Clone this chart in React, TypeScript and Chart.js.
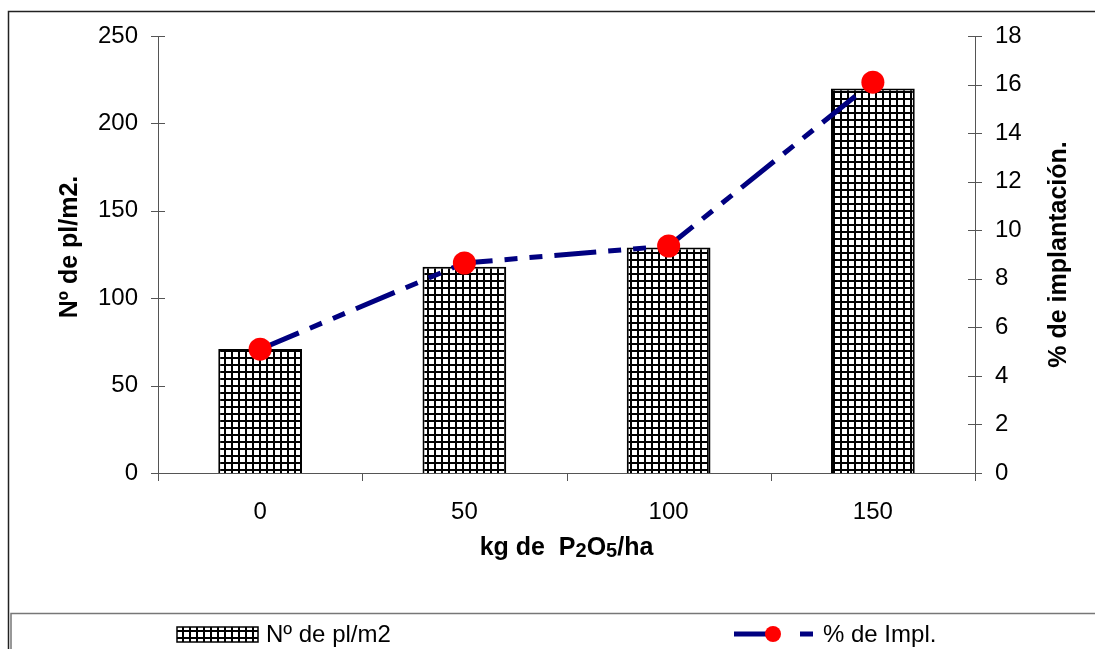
import { useEffect, useRef } from 'react';
import { Chart, registerables } from 'chart.js';

Chart.register(...registerables);

// Phosphorus doses (kg P2O5/ha)
const doses = ['0', '50', '100', '150'];
// Plant density (plants per m2)
const plantsPerM2 = [71, 118, 129, 220];
// Establishment percentage
const implantPct = [5.1, 8.65, 9.35, 16.1];

const FONT = '"Liberation Sans", Arial, Helvetica, sans-serif';
const NAVY = '#000080';
const DASH = [42, 12, 13, 12, 13, 12];

function makeGridPattern(): CanvasPattern | string {
  const tile = document.createElement('canvas');
  tile.width = 7;
  tile.height = 7;
  const t = tile.getContext('2d');
  if (!t) return '#ccc';
  t.fillStyle = '#ffffff';
  t.fillRect(0, 0, 7, 7);
  t.fillStyle = '#000000';
  t.fillRect(0, 0, 2, 7);
  t.fillRect(0, 0, 7, 2);
  const main = document.createElement('canvas').getContext('2d');
  return main ? (main.createPattern(tile, 'repeat') as CanvasPattern) : '#ccc';
}

export default function App() {
  const ref = useRef<HTMLCanvasElement | null>(null);

  useEffect(() => {
    document.body.style.margin = '0';
    const canvas = ref.current;
    if (!canvas) return;
    const pattern = makeGridPattern();

    const decorations = {
      id: 'decorations',
      afterDraw(chart: any) {
        const ctx: CanvasRenderingContext2D = chart.ctx;
        const { left, right, top, bottom } = chart.chartArea;
        const yL = chart.scales.y;
        const yR = chart.scales.y1;
        ctx.save();

        // tick marks crossing the value axes
        ctx.strokeStyle = '#555';
        ctx.lineWidth = 1;
        ctx.beginPath();
        yL.ticks.forEach((t: any) => {
          const y = Math.round(yL.getPixelForValue(t.value)) + 0.5;
          ctx.moveTo(left - 7, y);
          ctx.lineTo(left + 7, y);
        });
        yR.ticks.forEach((t: any) => {
          const y = Math.round(yR.getPixelForValue(t.value)) + 0.5;
          ctx.moveTo(right - 7, y);
          ctx.lineTo(right + 7, y);
        });
        // category boundary ticks
        const step = (right - left) / doses.length;
        for (let i = 0; i <= doses.length; i++) {
          const x = Math.round(left + i * step) + 0.5;
          ctx.moveTo(x, bottom);
          ctx.lineTo(x, bottom + 8);
        }
        ctx.stroke();

        // axis titles
        ctx.fillStyle = '#000';
        ctx.font = `bold 25px ${FONT}`;
        ctx.textAlign = 'center';
        ctx.textBaseline = 'middle';
        const midY = (top + bottom) / 2;
        ctx.save();
        ctx.translate(70, 247);
        ctx.rotate(-Math.PI / 2);
        ctx.fillText('Nº de pl/m2.', 0, 0);
        ctx.restore();
        ctx.save();
        ctx.translate(1059, midY);
        ctx.rotate(-Math.PI / 2);
        ctx.fillText('% de implantación.', 0, 0);
        ctx.restore();

        // x title with subscripts
        const parts: [string, number, number][] = [
          ['kg de  P', 25, 0],
          ['2', 20, 2],
          ['O', 25, 0],
          ['5', 20, 2],
          ['/ha', 25, 0],
        ];
        ctx.textAlign = 'left';
        ctx.textBaseline = 'alphabetic';
        let total = 0;
        parts.forEach(([s, size]) => {
          ctx.font = `bold ${size}px ${FONT}`;
          total += ctx.measureText(s).width;
        });
        let x = (left + right) / 2 - total / 2;
        parts.forEach(([s, size, dy]) => {
          ctx.font = `bold ${size}px ${FONT}`;
          ctx.fillText(s, x, 555 + dy);
          x += ctx.measureText(s).width;
        });

        // outer frame
        ctx.strokeStyle = '#222';
        ctx.lineWidth = 1.5;
        ctx.beginPath();
        ctx.moveTo(8.5, 649);
        ctx.lineTo(8.5, 11.5);
        ctx.lineTo(1095, 11.5);
        ctx.stroke();

        // legend box
        ctx.strokeStyle = '#777';
        ctx.lineWidth = 1.5;
        ctx.beginPath();
        ctx.moveTo(11, 649);
        ctx.lineTo(11, 613.5);
        ctx.lineTo(1095, 613.5);
        ctx.stroke();

        // legend: bars
        const ly = 634;
        ctx.fillStyle = pattern as any;
        ctx.fillRect(177, 627, 81, 15);
        ctx.strokeStyle = '#000';
        ctx.lineWidth = 1.5;
        ctx.strokeRect(177, 627, 81, 15);
        ctx.fillStyle = '#000';
        ctx.font = `24px ${FONT}`;
        ctx.textBaseline = 'middle';
        ctx.fillText('Nº de pl/m2', 266, ly + 1);

        // legend: line
        ctx.strokeStyle = NAVY;
        ctx.lineWidth = 5;
        ctx.beginPath();
        ctx.moveTo(734, ly);
        ctx.lineTo(774, ly);
        ctx.moveTo(800, ly);
        ctx.lineTo(813, ly);
        ctx.stroke();
        ctx.fillStyle = '#ff0000';
        ctx.beginPath();
        ctx.arc(773, ly, 8, 0, Math.PI * 2);
        ctx.fill();
        ctx.fillStyle = '#000';
        ctx.fillText('% de Impl.', 823, ly + 1);

        ctx.restore();
      },
    };

    const chart = new Chart(canvas, {
      type: 'bar',
      data: {
        labels: doses,
        datasets: [
          {
            type: 'line',
            label: '% de Impl.',
            data: implantPct,
            yAxisID: 'y1',
            borderColor: NAVY,
            borderWidth: 5,
            borderDash: DASH,
            tension: 0,
            pointRadius: 11.5,
            pointBackgroundColor: '#ff0000',
            pointBorderColor: '#ff0000',
            pointBorderWidth: 0,
            order: 0,
          } as any,
          {
            type: 'bar',
            label: 'Nº de pl/m2',
            data: plantsPerM2,
            yAxisID: 'y',
            backgroundColor: pattern as any,
            borderColor: '#000',
            borderWidth: 2,
            categoryPercentage: 1,
            barPercentage: 0.41,
            order: 1,
          },
        ],
      },
      options: {
        responsive: false,
        animation: false,
        layout: { padding: { top: 36, left: 0, right: 0, bottom: 0 } },
        plugins: {
          legend: { display: false },
          tooltip: { enabled: false },
        },
        scales: {
          x: {
            grid: { display: false, drawTicks: false },
            border: { display: true, color: '#555', width: 1 },
            ticks: { color: '#000', font: { family: FONT, size: 24 }, padding: 25 },
            afterFit(scale: any) {
              scale.height = 176;
            },
          },
          y: {
            position: 'left',
            min: 0,
            max: 250,
            grid: { display: false, drawTicks: false },
            border: { display: true, color: '#555', width: 1 },
            ticks: { stepSize: 50, color: '#000', font: { family: FONT, size: 24 }, padding: 20 },
            afterFit(scale: any) {
              scale.width = 158;
            },
          },
          y1: {
            position: 'right',
            min: 0,
            max: 18,
            grid: { display: false, drawTicks: false },
            border: { display: true, color: '#555', width: 1 },
            ticks: { stepSize: 2, color: '#000', font: { family: FONT, size: 24 }, padding: 20 },
            afterFit(scale: any) {
              scale.width = 120;
            },
          },
        },
      },
      plugins: [decorations],
    });

    return () => chart.destroy();
  }, []);

  return <canvas ref={ref} width={1095} height={649} style={{ display: 'block' }} />;
}
